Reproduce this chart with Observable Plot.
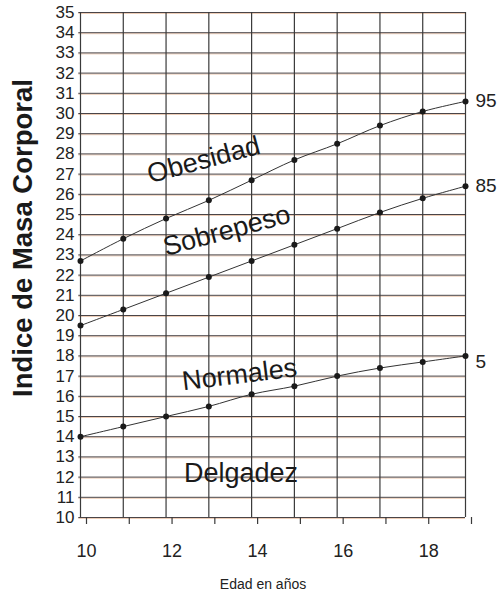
<!DOCTYPE html>
<html>
<head>
<meta charset="utf-8">
<script src="https://cdn.jsdelivr.net/npm/d3@7"></script>
<script src="https://cdn.jsdelivr.net/npm/@observablehq/plot@0.6"></script>
<style>
  html, body { margin: 0; padding: 0; background: #fff; }
  #chart svg { display: block; }
</style>
</head>
<body>
<div id="chart"></div>
<script>
const ages = [10, 11, 12, 13, 14, 15, 16, 17, 18, 19];
const p95 = [22.7, 23.8, 24.8, 25.7, 26.7, 27.7, 28.5, 29.4, 30.1, 30.6];
const p85 = [19.5, 20.3, 21.1, 21.9, 22.7, 23.5, 24.3, 25.1, 25.8, 26.4];
const p5  = [14.0, 14.5, 15.0, 15.5, 16.1, 16.5, 17.0, 17.4, 17.7, 18.0];
const seriesNames = ["95", "85", "5"];
const yTicks = d3.range(10, 36);
const xLabelTicks = [10, 12, 14, 16, 18];

const regionNames = ["Obesidad", "Sobrepeso", "Normales", "Delgadez"];
const regionAge = [12.88, 13.42, 13.72, 13.75];
const regionBmi = [27.7, 24.2, 17.07, 12.2];
const regionAngle = [-15, -15, -7, 0];

const seriesValues = [p95, p85, p5];
const rows = seriesValues.flatMap((vals, s) =>
  ages.map((a, i) => ({series: seriesNames[s], age: a, bmi: vals[i]})));
const ends = seriesValues.map((vals, s) =>
  ({series: seriesNames[s], age: ages[ages.length - 1], bmi: vals[vals.length - 1]}));
const regions = regionNames.map((n, i) =>
  ({name: n, age: regionAge[i], bmi: regionBmi[i], angle: regionAngle[i]}));

const font = "'Liberation Sans', Arial, sans-serif";

const chart = Plot.plot({
  width: 500,
  height: 594,
  marginLeft: 80,
  marginRight: 35,
  marginTop: 12,
  marginBottom: 77,
  style: {fontFamily: font, background: "#fff", color: "#222"},
  x: {domain: [10, 19]},
  y: {domain: [10, 35]},
  marks: [
    // horizontal grid: dark line with a faint warm fringe (scanned look)
    Plot.ruleY(yTicks, {x1: 9.96, x2: 19, stroke: "#d89060", strokeWidth: 1, strokeOpacity: 0.45, dy: 1}),
    Plot.ruleY(yTicks, {x1: 9.96, x2: 19, stroke: "#4a4548", strokeWidth: 1}),
    // vertical grid
    Plot.ruleX(ages, {y1: 10, y2: 35, stroke: "#3a3a3a", strokeWidth: 1.2}),
    Plot.axisX({
      ticks: ages, tickSize: 7, tickPadding: 20, stroke: "#3a3a3a", strokeWidth: 1.2,
      tickFormat: d => xLabelTicks.includes(d) ? String(d) : "",
      fontSize: 18, dx: 6, label: null, fill: "#222"
    }),
    Plot.axisY({
      ticks: yTicks, tickSize: 0, tickPadding: 6, fontSize: 17, label: null,
      tickFormat: d => String(d), fill: "#222"
    }),
    // percentile curves
    Plot.line(rows, {x: "age", y: "bmi", z: "series", stroke: "#333", strokeWidth: 1, curve: "catmull-rom"}),
    Plot.dot(rows, {x: "age", y: "bmi", r: 3, fill: "#1a1a1a", stroke: "none"}),
    Plot.text(ends.filter(d => d.series !== "5"), {
      x: "age", y: "bmi", text: "series", dx: 10, textAnchor: "start",
      fontSize: 19, fill: "#222"
    }),
    Plot.text(ends.filter(d => d.series === "5"), {
      x: "age", y: "bmi", text: "series", dx: 10, dy: 6, textAnchor: "start",
      fontSize: 19, fill: "#222"
    }),
    // region labels
    Plot.text(regions, {
      x: "age", y: "bmi", text: "name", rotate: "angle",
      fontSize: 27, fill: "#1a1a1a", textAnchor: "middle"
    }),
    // axis titles
    Plot.text(["Indice de Masa Corporal"], {
      frameAnchor: "left", dx: -57, dy: -27, rotate: -90,
      fontSize: 27.5, fontWeight: "bold", fill: "#1a1a1a", textAnchor: "middle"
    }),
    Plot.text(["Edad en años"], {
      frameAnchor: "bottom", dx: -10, dy: 71, fontSize: 14, fill: "#222", textAnchor: "middle"
    })
  ]
});
document.getElementById("chart").appendChild(chart);
</script>
</body>
</html>
